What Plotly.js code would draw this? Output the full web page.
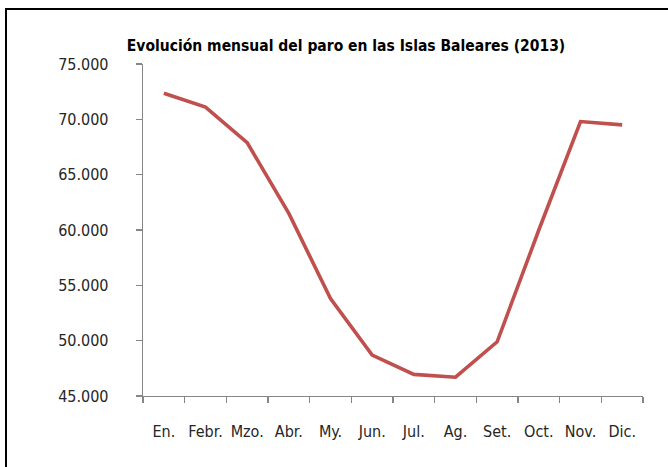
<!DOCTYPE html>
<html>
<head>
<meta charset="utf-8">
<script src="https://cdn.plot.ly/plotly-3.0.1.min.js"></script>
<style>
  html, body { margin: 0; padding: 0; background: #ffffff; }
  #wrap { position: relative; width: 668px; height: 467px; overflow: hidden; }
  #chart { width: 668px; height: 467px; }
  #frame { position: absolute; left: 5px; top: 8px; width: 700px; height: 500px;
           border-left: 2px solid #000; border-top: 2px solid #000; pointer-events: none; }
</style>
</head>
<body>
<div id="wrap">
  <div id="chart"></div>
  <div id="frame"></div>
</div>
<script>
const months = ["En.", "Febr.", "Mzo.", "Abr.", "My.", "Jun.", "Jul.", "Ag.", "Set.", "Oct.", "Nov.", "Dic."];
const paro = [72350, 71100, 67900, 61500, 53800, 48700, 46950, 46700, 49900, 60000, 69800, 69500];
const yTickVals = [45000, 50000, 55000, 60000, 65000, 70000, 75000];
const yTickText = ["45.000", "50.000", "55.000", "60.000", "65.000", "70.000", "75.000"];
const chartTitle = "Evolución mensual del paro en las Islas Baleares (2013)";

const labelFont = { family: "Liberation Sans Narrow, DejaVu Sans Condensed, Arial Narrow, sans-serif", size: 16, color: "#262626" };

const trace = {
  type: "scatter",
  mode: "lines",
  x: months,
  y: paro,
  line: { color: "#C0504D", width: 3.6 },
  hoverinfo: "x+y"
};

const layout = {
  width: 668,
  height: 467,
  paper_bgcolor: "#ffffff",
  plot_bgcolor: "#ffffff",
  showlegend: false,
  margin: { l: 143, r: 25, t: 64, b: 71, pad: 0 },
  title: {
    text: "<b>" + chartTitle + "</b>",
    font: { family: "Liberation Sans Narrow, DejaVu Sans Condensed, Arial Narrow, sans-serif", size: 15.5, color: "#000000" },
    x: 0.518, xanchor: "center",
    y: 0.903, yanchor: "middle"
  },
  xaxis: {
    type: "category",
    range: [-0.5, 11.5],
    showgrid: false,
    zeroline: false,
    showline: true,
    linecolor: "#868686",
    linewidth: 1.3,
    ticks: "outside",
    tickson: "boundaries",
    ticklen: 6,
    tickcolor: "#868686",
    tickwidth: 1.3,
    tickfont: labelFont,
    ticklabelstandoff: 20,
    tickangle: 0,
    fixedrange: true
  },
  yaxis: {
    range: [45000, 75000],
    tickvals: yTickVals,
    ticktext: yTickText,
    showgrid: false,
    zeroline: false,
    showline: true,
    linecolor: "#868686",
    linewidth: 1.3,
    ticks: "outside",
    ticklen: 6,
    tickcolor: "#868686",
    tickwidth: 1.3,
    tickfont: labelFont,
    ticklabelstandoff: 24,
    fixedrange: true
  }
};

Plotly.newPlot("chart", [trace], layout, { displayModeBar: false, staticPlot: true });
</script>
</body>
</html>
